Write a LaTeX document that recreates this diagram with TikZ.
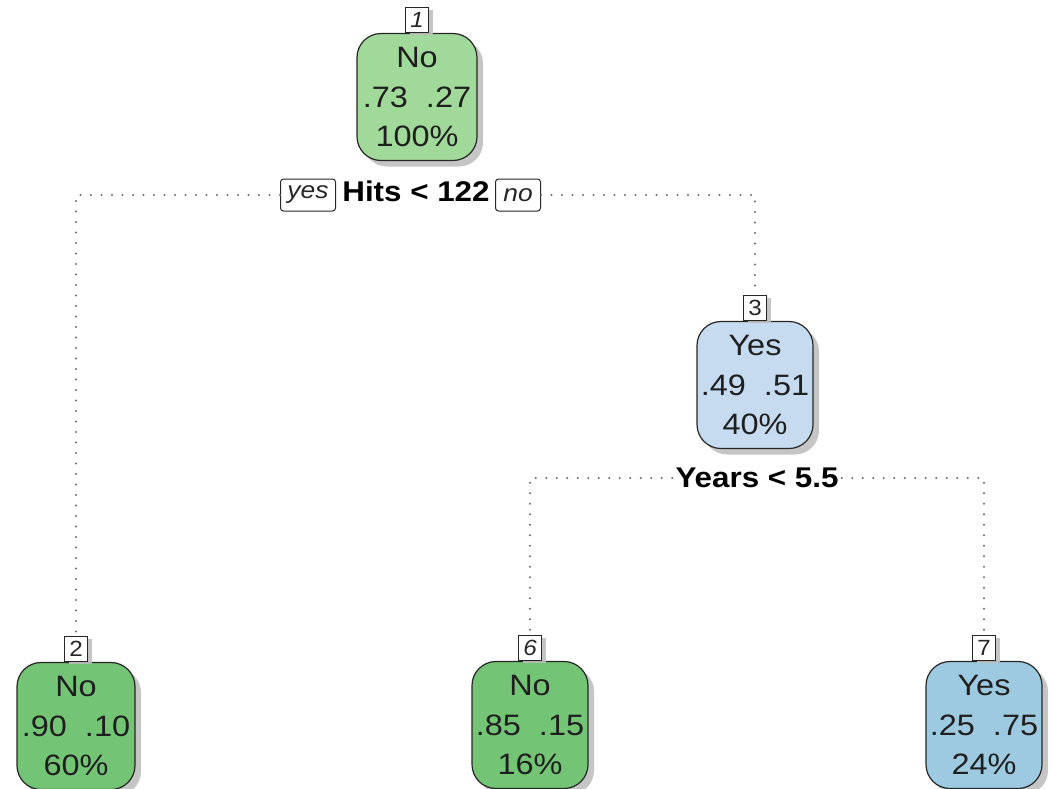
\documentclass[tikz,border=0pt]{standalone}
\usepackage{fontspec}
\setmainfont{Liberation Sans}[FakeStretch=1.1]
\usetikzlibrary{shadows}
\definecolor{greenA}{HTML}{A1D99B}
\definecolor{greenB}{HTML}{74C476}
\definecolor{blueA}{HTML}{C6DBEF}
\definecolor{blueB}{HTML}{9ECAE1}
\definecolor{dotgray}{HTML}{6A6A6A}
\tikzset{
  treenode/.style={draw=black!85, line width=1.2pt, rounded corners=24pt,
    minimum height=127pt, inner sep=0pt, align=center, text=black!88,
    font=\fontsize{29.5}{39.5}\selectfont,
    drop shadow={shadow xshift=6pt, shadow yshift=-6pt, fill=black!25, opacity=0.9}},
  numbox/.style={draw=black!85, line width=1pt, fill=white, anchor=south,
    minimum width=23pt, minimum height=25pt, inner sep=0pt,
    font=\fontsize{22}{22}\selectfont, text=black!85,
    drop shadow={shadow xshift=4pt, shadow yshift=-3pt, fill=black!25, opacity=0.9}},
  dirbox/.style={draw=black!85, line width=1pt, fill=white, rounded corners=3pt,
    minimum height=32pt, inner sep=1pt, font=\fontsize{24}{24}\selectfont\itshape,
    text=black!85},
  splitlabel/.style={inner sep=3pt, font=\fontsize{28.5}{28.5}\selectfont\bfseries},
  dotline/.style={draw=dotgray, line width=2.2pt, line cap=round,
    dash pattern=on 0pt off 10.5pt},
}
\begin{document}
\begin{tikzpicture}[x=1pt, y=-1pt]
\useasboundingbox (0,0) rectangle (1050,788);

% tree nodes
\node[treenode, fill=greenA, minimum width=120pt] (n1) at (417,97) {No\\.73\ \ .27\\100\%};
\node[treenode, fill=blueA, minimum width=116pt] (n3) at (755,385) {Yes\\.49\ \ .51\\40\%};
\node[treenode, fill=greenB, minimum width=118pt] (n2) at (76,726) {No\\.90\ \ .10\\60\%};
\node[treenode, fill=greenB, minimum width=116pt] (n6) at (530,725) {No\\.85\ \ .15\\16\%};
\node[treenode, fill=blueB, minimum width=116pt] (n7) at (984,725) {Yes\\.25\ \ .75\\24\%};

% node numbers
\node[numbox] (l1) at (n1.north) {\itshape 1};
\node[numbox] (l3) at (n3.north) {3};
\node[numbox] (l2) at (n2.north) {2};
\node[numbox] (l6) at (n6.north) {\itshape 6};
\node[numbox] (l7) at (n7.north) {7};

% first split
\node[splitlabel] (s1) at (416,191) {Hits < 122};
\node[dirbox, minimum width=55pt] (yes) at (308,195) {yes};
\node[dirbox, minimum width=45pt] (no) at (518,195) {no};
\draw[dotline] (yes.west) -| (l2.north);
\draw[dotline] (no.east) -| (l3.north);

% second split
\node[splitlabel] (s2) at (757,478) {Years < 5.5};
\draw[dotline] (s2.west) -| (l6.north);
\draw[dotline] (s2.east) -| (l7.north);
\end{tikzpicture}
\end{document}
